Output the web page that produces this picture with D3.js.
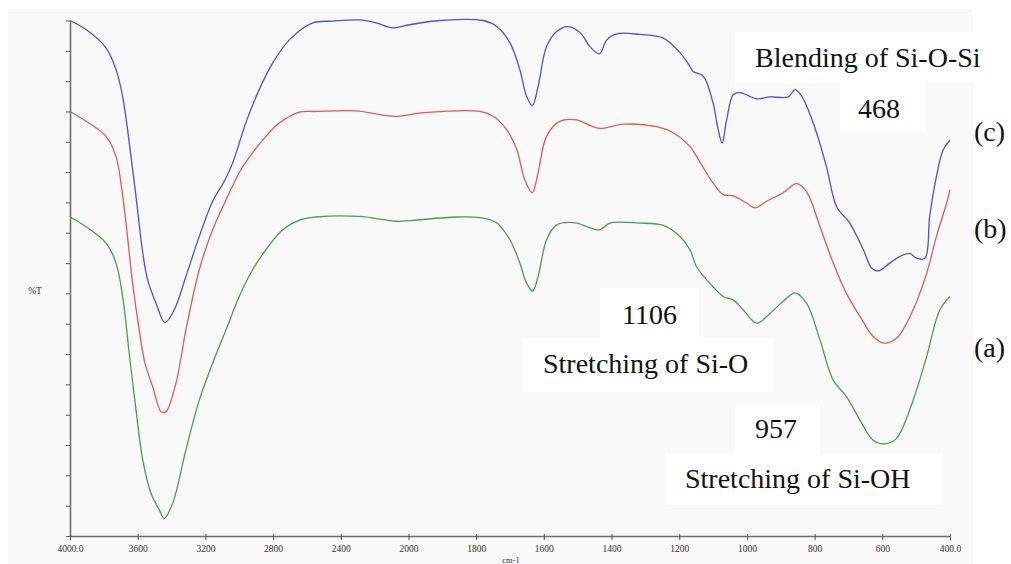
<!DOCTYPE html>
<html>
<head>
<meta charset="utf-8">
<script src="https://cdn.jsdelivr.net/npm/d3@7"></script>
<style>
  body { margin: 0; background: #ffffff; }
  svg { display: block; }
</style>
</head>
<body>
<svg id="chart" width="1011" height="564"></svg>
<script>
// FTIR transmittance spectra, [wavenumber (cm-1), %T]
const sampleA = [[4000,52.6],[3905,51.0],[3787,48.3],[3728,45.0],[3689,39.5],[3650,30.1],[3610,20.8],[3570,12.5],[3521,7.0],[3472,4.3],[3443,2.9],[3393,5.4],[3315,14.2],[3236,22.4],[3157,28.5],[3078,34.0],[3000,39.5],[2921,43.9],[2842,47.2],[2743,50.5],[2645,52.1],[2547,52.6],[2291,52.7],[2074,51.9],[1996,52.0],[1858,52.6],[1779,52.4],[1739,51.6],[1700,48.8],[1671,45.0],[1651,41.7],[1633,40.4],[1617,42.8],[1592,48.8],[1562,51.3],[1503,51.6],[1464,50.8],[1434,50.5],[1405,51.6],[1316,51.6],[1247,51.2],[1198,49.4],[1168,47.2],[1149,44.4],[1100,41.1],[1070,39.5],[1040,38.9],[1011,37.3],[971,35.1],[932,36.7],[893,38.7],[858,40.1],[824,38.4],[784,32.3],[745,25.7],[706,23.0],[666,19.1],[627,15.8],[592,15.2],[558,16.1],[509,22.4],[469,29.6],[430,37.3],[400,39.5]];

const sampleB = [[4000,70.0],[3905,68.4],[3787,65.9],[3728,62.6],[3699,58.2],[3669,51.6],[3630,41.7],[3591,34.0],[3557,28.5],[3511,24.6],[3462,20.5],[3433,20.5],[3374,25.2],[3315,34.0],[3236,43.9],[3157,50.5],[3078,55.4],[3000,59.9],[2921,63.2],[2842,65.9],[2763,68.1],[2645,69.9],[2547,70.0],[2310,70.1],[2080,69.2],[1956,69.8],[1789,70.0],[1750,69.2],[1710,67.0],[1680,63.7],[1656,58.7],[1634,56.6],[1617,59.9],[1592,65.9],[1552,68.4],[1503,68.6],[1464,67.7],[1434,67.2],[1365,67.9],[1267,67.5],[1218,66.5],[1168,64.2],[1149,62.6],[1100,58.2],[1070,56.3],[1040,56.1],[1001,54.9],[976,54.1],[942,55.2],[893,56.6],[853,58.1],[824,56.8],[784,51.0],[745,45.0],[706,40.0],[666,36.2],[627,32.9],[595,31.8],[558,32.6],[509,37.3],[469,43.3],[440,49.4],[410,54.9],[400,57.1]];

const sampleC = [[4000,85.0],[3905,83.5],[3787,80.5],[3728,76.9],[3689,72.5],[3650,64.9],[3610,56.0],[3570,46.7],[3541,42.2],[3492,38.4],[3439,35.2],[3384,37.3],[3315,42.8],[3236,49.4],[3157,55.2],[3088,58.5],[3039,61.5],[2960,68.2],[2882,73.6],[2802,78.0],[2704,81.8],[2566,84.6],[2448,84.9],[2291,85.1],[2192,84.6],[2092,83.8],[1996,84.3],[1907,85.0],[1779,85.0],[1739,84.0],[1700,81.3],[1671,76.9],[1651,72.5],[1634,71.0],[1617,74.1],[1592,80.7],[1562,83.2],[1528,84.0],[1493,83.0],[1464,80.7],[1436,79.5],[1414,81.8],[1385,82.8],[1316,82.7],[1247,82.1],[1198,79.7],[1168,77.4],[1159,76.6],[1129,75.8],[1100,71.4],[1085,67.0],[1073,64.8],[1060,68.6],[1040,72.8],[1021,73.1],[971,72.1],[932,72.4],[878,72.4],[858,73.6],[838,72.5],[804,68.1],[765,60.9],[735,54.3],[696,51.6],[656,47.2],[632,44.2],[612,43.7],[578,45.0],[548,46.1],[519,46.6],[499,45.8],[474,45.8],[460,52.7],[440,59.3],[420,63.7],[400,65.3]];

const seriesLabels = ["(a)", "(b)", "(c)"];
const xTickValues = [4000, 3600, 3200, 2800, 2400, 2000, 1800, 1600, 1400, 1200, 1000, 800, 600, 400];
const xTickLabels = ["4000.0", "3600", "3200", "2800", "2400", "2000", "1800", "1600", "1400", "1200", "1000", "800", "600", "400.0"];
const yTickValues = d3.range(0, 86, 5);
const axisTitles = { x: "cm-1", y: "%T" };
const noteTexts = ["Blending of Si-O-Si", "468", "1106", "Stretching of Si-O", "957", "Stretching of Si-OH"];

// ---- layout & style ----
const seriesColors = ["#4f9a4f", "#e05858", "#5050d2"];
const serif = "'Liberation Serif', 'Times New Roman', serif";
const plotLeft = 70, plotRight = 950, plotTop = 20.5, plotBottom = 536;
// label boxes: [boxX, boxY, boxW, boxH, textX, baseline]
const noteLayout = [
  [735, 32, 238, 51, 755, 67],
  [840, 83, 85, 50, 858, 118],
  [600, 288, 99, 50, 622, 324],
  [523, 338, 250, 54, 543, 373],
  [735, 403, 85, 50, 755, 438],
  [665, 453, 278, 52, 685, 488]
];
const seriesLabelPos = [[974, 357], [974, 238], [974, 141]];

const svg = d3.select("#chart");

// faint panel behind the spectrum
svg.append("rect")
  .attr("x", 8).attr("y", 9).attr("width", 965).attr("height", 555)
  .attr("fill", "#f9f9f9");

// wavenumber axis: scale doubles below 2000 cm-1
const x = d3.scaleLinear()
  .domain([4000, 2000, 400])
  .range([plotLeft, plotLeft + (plotRight - plotLeft) * 5 / 13, plotRight]);
const y = d3.scaleLinear().domain([0, 85]).range([plotBottom, plotTop]);

const line = d3.line()
  .x(d => x(d[0]))
  .y(d => y(d[1]))
  .curve(d3.curveCatmullRom.alpha(0.5));

[sampleA, sampleB, sampleC].forEach((s, i) => {
  svg.append("path")
    .datum(s)
    .attr("fill", "none")
    .attr("stroke", seriesColors[i])
    .attr("stroke-width", 1.3)
    .attr("stroke-linejoin", "round")
    .attr("d", line);
});

// y axis (no labels)
const yAxis = svg.append("g")
  .attr("transform", `translate(${plotLeft},0)`)
  .call(d3.axisLeft(y).tickValues(yTickValues).tickSize(4).tickSizeOuter(0).tickFormat(""));
yAxis.select(".domain").attr("stroke", "#6e6e6e").attr("stroke-width", 1.6);
yAxis.selectAll(".tick line").attr("stroke", "#555");

// x axis
const xAxis = svg.append("g")
  .attr("transform", `translate(0,${plotBottom})`)
  .call(d3.axisBottom(x).tickValues(xTickValues).tickSize(4).tickSizeOuter(0).tickPadding(5)
    .tickFormat((d, i) => xTickLabels[i]));
xAxis.select(".domain").attr("stroke", "#6e6e6e").attr("stroke-width", 1.6);
xAxis.selectAll(".tick line").attr("stroke", "#555").attr("y1", -2);
xAxis.selectAll(".tick text")
  .attr("fill", "#333")
  .attr("font-family", serif)
  .attr("font-size", 9.5);

// axis titles
svg.append("text")
  .attr("x", 35).attr("y", 294)
  .attr("text-anchor", "middle")
  .attr("font-family", serif)
  .attr("font-size", 9.5)
  .attr("fill", "#333")
  .text(axisTitles.y);
svg.append("text")
  .attr("x", 511).attr("y", 563)
  .attr("text-anchor", "middle")
  .attr("font-family", serif)
  .attr("font-size", 8.5)
  .attr("fill", "#333")
  .text(axisTitles.x);

// band annotations on white boxes
noteTexts.forEach((t, i) => {
  const [bx, by, bw, bh, tx, ty] = noteLayout[i];
  svg.append("rect")
    .attr("x", bx).attr("y", by).attr("width", bw).attr("height", bh)
    .attr("fill", "#ffffff");
  svg.append("text")
    .attr("x", tx).attr("y", ty)
    .attr("font-family", serif)
    .attr("font-size", 28)
    .attr("fill", "#111")
    .text(t);
});

// sample labels
seriesLabels.forEach((t, i) => {
  svg.append("text")
    .attr("x", seriesLabelPos[i][0]).attr("y", seriesLabelPos[i][1])
    .attr("font-family", serif)
    .attr("font-size", 28)
    .attr("fill", "#111")
    .text(t);
});
</script>
</body>
</html>
